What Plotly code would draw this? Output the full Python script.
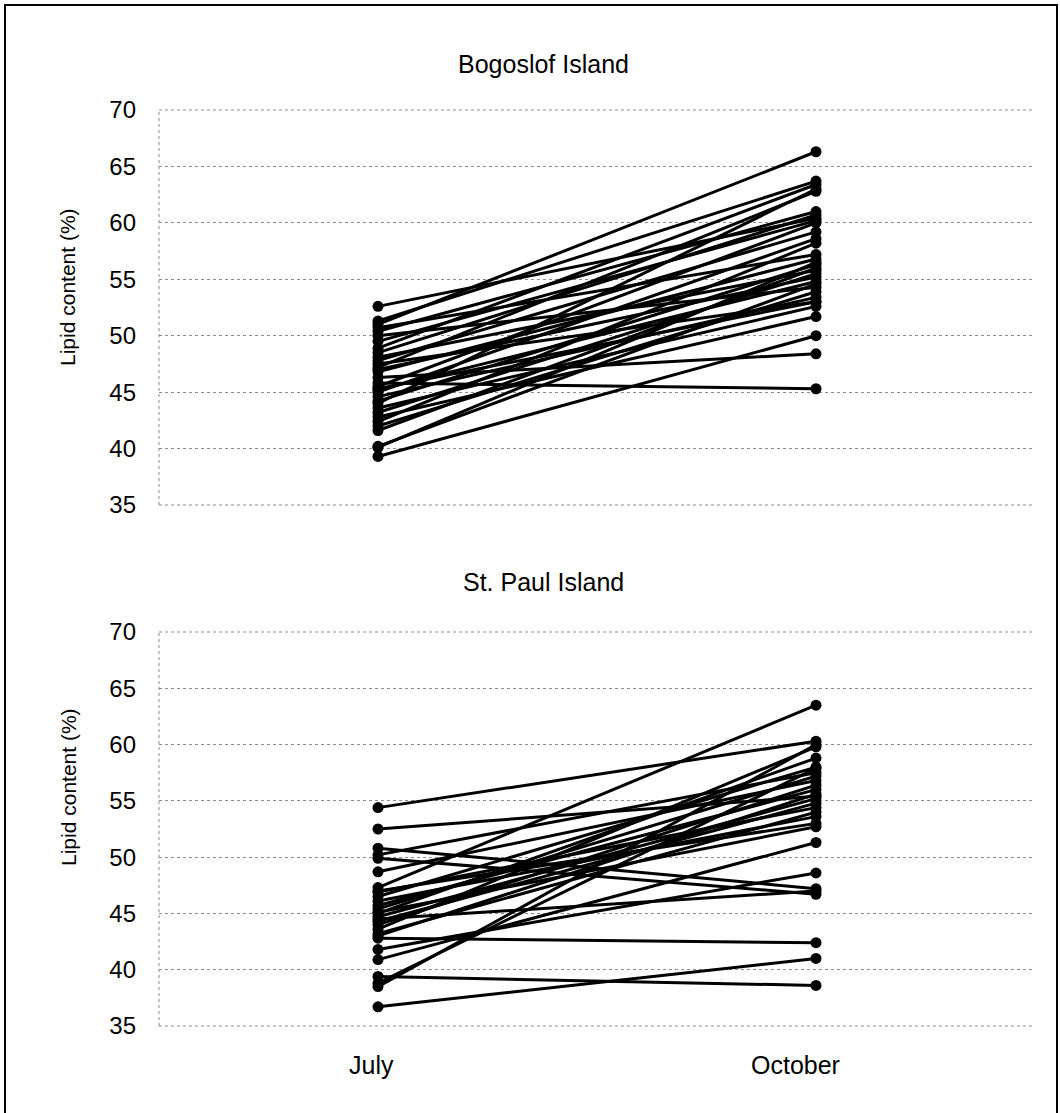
import plotly.graph_objects as go

# ---- data ----
months = ["July", "October"]
y_ticks = [35, 40, 45, 50, 55, 60, 65, 70]

bog_july = [52.6, 51.3, 51.0, 50.7, 50.4, 50.0, 48.9, 48.5, 48.1, 47.8, 47.5, 47.2,
            46.8, 46.3, 45.8, 45.5, 45.2, 45.0, 44.6, 44.2, 44.0, 43.6, 43.2, 42.8,
            42.4, 42.0, 41.6, 40.2, 39.3, 40.1, 49.5, 47.0, 45.3]
bog_oct = [60.4, 63.7, 66.3, 57.2, 61.0, 54.3, 63.4, 60.7, 55.8, 59.2, 53.0, 62.8,
           56.8, 48.4, 45.3, 60.0, 54.8, 58.6, 53.4, 56.3, 63.0, 52.6, 55.5, 51.7,
           58.2, 53.9, 56.0, 54.6, 50.0, 56.5, 60.2, 55.2, 53.0]

stp_july = [54.4, 52.5, 50.8, 50.2, 49.9, 48.7, 47.3, 46.9, 46.5, 46.1, 45.7, 45.4,
            45.1, 44.7, 44.3, 44.0, 43.6, 43.2, 42.8, 41.8, 40.9, 39.4, 38.5, 38.8,
            36.7, 45.0, 43.0, 47.0, 44.5]
stp_oct = [60.3, 55.4, 47.2, 57.5, 46.7, 56.8, 63.5, 54.4, 58.0, 53.6, 56.0, 57.2,
           52.7, 55.2, 54.8, 56.4, 59.8, 54.0, 42.4, 48.6, 51.3, 38.6, 60.0, 57.9,
           41.0, 58.8, 55.6, 53.0, 47.0]

W, H = 1060, 1113
FONT = "Liberation Sans, Arial, sans-serif"


def pairs(july, octo):
    xs, ys = [], []
    for a, b in zip(july, octo):
        xs += [0, 1, None]
        ys += [a, b, None]
    return xs, ys


fig = go.Figure()
for data, (xa, ya) in [((bog_july, bog_oct), ("x", "y")), ((stp_july, stp_oct), ("x2", "y2"))]:
    xs, ys = pairs(*data)
    fig.add_trace(go.Scatter(
        x=xs, y=ys, mode="lines+markers", xaxis=xa, yaxis=ya,
        line=dict(color="black", width=3),
        marker=dict(color="black", size=11),
        showlegend=False, hoverinfo="skip", connectgaps=False,
    ))

xdom = [159 / W, 1035 / W]
top_dom = [1 - 505 / H, 1 - 110 / H]
bot_dom = [1 - 1026 / H, 1 - 632 / H]

GRID = "#8c8c8c"
grid = dict(showgrid=True, gridcolor=GRID, gridwidth=1, griddash="dot")
yax = dict(range=[35, 70], tickvals=y_ticks, zeroline=False, automargin=False,
           showline=False,
           tickfont=dict(family=FONT, size=24, color="black"),
           ticks="", ticklabelstandoff=22,
           **grid)
xax = dict(range=[-0.5, 1.5], tickvals=[0, 1], ticktext=months, showgrid=False,
           zeroline=False, showline=False, ticks="", automargin=False,
           showticklabels=False)

fig.update_layout(
    width=W, height=H, margin=dict(l=0, r=0, t=0, b=0),
    paper_bgcolor="white", plot_bgcolor="white",
    template="none",
    xaxis=dict(domain=xdom, anchor="y", **xax),
    yaxis=dict(domain=top_dom, anchor="x", **yax),
    xaxis2=dict(domain=xdom, anchor="y2", **xax),
    yaxis2=dict(domain=bot_dom, anchor="x2", **yax),
)

tfont = dict(family=FONT, size=25, color="black")
ann = [
    dict(text="Bogoslof Island", x=543 / W, y=1 - 64 / H),
    dict(text="St. Paul Island", x=543 / W, y=1 - 582 / H),
    dict(text=months[0], x=371 / W, y=1 - 1065 / H),
    dict(text=months[1], x=795 / W, y=1 - 1065 / H),
]
for a in ann:
    fig.add_annotation(xref="paper", yref="paper", showarrow=False, font=tfont,
                       xanchor="center", yanchor="middle", **a)
for yc in (287, 787):
    fig.add_annotation(text="Lipid content (%)", xref="paper", yref="paper",
                       x=68 / W, y=1 - yc / H, textangle=-90, showarrow=False,
                       font=dict(family=FONT, size=21, color="black"),
                       xanchor="center", yanchor="middle")

# dotted left axis lines, top/bottom edge gridlines, and outer frame
for xr, yr in (("x domain", "y domain"), ("x2 domain", "y2 domain")):
    fig.add_shape(type="line", xref=xr, yref=yr, x0=0, x1=0, y0=0, y1=1,
                  line=dict(color=GRID, width=1, dash="dot"))
    for yy in (0, 1):
        fig.add_shape(type="line", xref=xr, yref=yr, x0=0, x1=1, y0=yy, y1=yy,
                      line=dict(color=GRID, width=1, dash="dot"))
fig.add_shape(type="rect", xref="paper", yref="paper", x0=5 / W, x1=1057 / W,
              y0=-0.01, y1=1 - 5 / H, line=dict(color="black", width=2),
              fillcolor="rgba(0,0,0,0)")

fig.write_html("out.html", config={"displayModeBar": False},
               post_script="document.body.style.margin='0';")
